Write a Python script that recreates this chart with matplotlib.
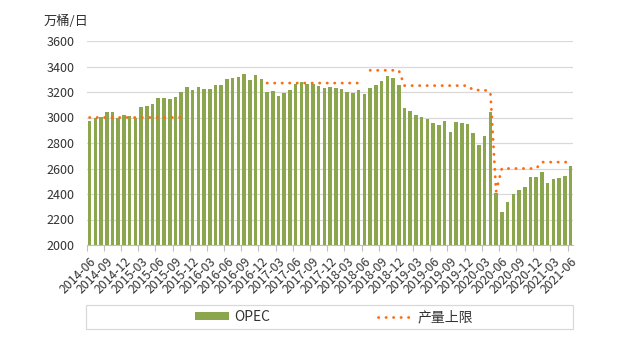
import numpy as np
import pandas as pd
import matplotlib
matplotlib.use("Agg")
import matplotlib.pyplot as plt
from matplotlib.patches import Rectangle
from matplotlib.transforms import ScaledTranslation

plt.rcParams['font.family'] = ['Noto Sans CJK SC', 'DejaVu Sans']

months = [str(p) for p in pd.period_range('2014-06', '2021-06', freq='M')]

# OPEC output, 10k barrels/day
opec = [
    2975, 3000, 3001, 3046, 3040, 3000, 3020, 3012, 3000, 3080, 3090, 3106,
    3150, 3150, 3145, 3161, 3200, 3237, 3216, 3242, 3221, 3221, 3255, 3255,
    3302, 3312, 3315, 3341, 3292, 3331, 3299, 3200, 3205, 3169, 3192, 3213,
    3265, 3276, 3260, 3265, 3247, 3231, 3237, 3231, 3226, 3203, 3195, 3213,
    3182, 3229, 3252, 3286, 3328, 3312, 3257, 3075, 3054, 3022, 3001, 2986,
    2954, 2941, 2973, 2886, 2962, 2957, 2946, 2881, 2782, 2855, 3046, 2405,
    2259, 2340, 2403, 2434, 2455, 2533, 2536, 2575, 2484, 2515, 2525, 2544,
    2620,
]

nan = np.nan
# production ceiling
quota = [
    3000, 3000, 3000, 3000, 3000, 3000, 3000, 3000, 3000, 3000, 3000, 3000,
    3000, 3000, 3000, 3000, 3000, nan, nan, nan, nan, nan, nan, nan,
    nan, nan, nan, nan, nan, nan, nan, 3270, 3270, 3270, 3270, 3270,
    3270, 3270, 3270, 3270, 3270, 3270, 3270, 3270, 3270, 3270, 3270, 3270,
    nan, 3370, 3370, 3370, 3370, 3370, 3370, 3250, 3250, 3250, 3250, 3250,
    3250, 3250, 3250, 3250, 3250, 3250, 3250, 3215, 3215, 3215, 3200, 2420,
    2600, 2600, 2600, 2600, 2600, 2600, 2600, 2650, 2650, 2650, 2650, 2650,
    2650,
]

x = np.arange(len(months))

fig = plt.figure(figsize=(6.38, 3.52), dpi=100)
ax = fig.add_axes([86.7 / 638, 1 - 245 / 352, (573.4 - 86.7) / 638, (245 - 41) / 352])

bars = ax.bar(x, opec, width=0.62, color='#8BA64D', zorder=2)
line, = ax.plot(x, quota, color='#FF6A10', lw=2.0, linestyle=(0, (0.1, 2.6)),
                dash_capstyle='round', zorder=3)

ax.set_xlim(-0.5, len(months) - 0.5)
ax.set_ylim(2000, 3600)
ax.set_yticks(np.arange(2000, 3601, 200))
ax.grid(axis='y', color='#D9D9D9', lw=0.9, zorder=0)
ax.set_axisbelow(True)

ax.set_xticks(x[::3])
ax.set_xticklabels(months[::3], rotation=45, ha='right', va='top', rotation_mode='anchor')
shift = ScaledTranslation(2 / 100, 0, fig.dpi_scale_trans)
for t in ax.get_xticklabels():
    t.set_transform(t.get_transform() + shift)
ax.set_xticks(np.arange(-0.5, len(months) - 1, 3), minor=True)
ax.tick_params(axis='x', which='major', length=0, pad=7, labelsize=8.8, labelcolor='#333333')
ax.tick_params(axis='x', which='minor', length=4, color='#BFBFBF', width=0.8)
ax.tick_params(axis='y', length=0, pad=9, labelsize=9, labelcolor='#333333')

for s in ['top', 'right', 'left']:
    ax.spines[s].set_visible(False)
ax.spines['bottom'].set_color('#BFBFBF')
ax.spines['bottom'].set_linewidth(0.8)

fig.text(65.5 / 638, 1 - 21 / 352, '万桶/日', ha='center', va='center', fontsize=9.5, color='#333333')

# legend box
fig.patches.append(Rectangle((86 / 638, 1 - 329 / 352), (573 - 86) / 638, 24 / 352,
                             transform=fig.transFigure, fill=False, ec='#D9D9D9', lw=0.9))
fig.legend([bars, line], ['OPEC', '产量上限'], loc='center',
           bbox_to_anchor=(334 / 638, 1 - 317 / 352), ncol=2,
           frameon=False, fontsize=10, handlelength=2.4, handleheight=0.5,
           handletextpad=0.4, columnspacing=7.8, labelcolor='#333333')

fig.savefig('out.png', dpi=100)
